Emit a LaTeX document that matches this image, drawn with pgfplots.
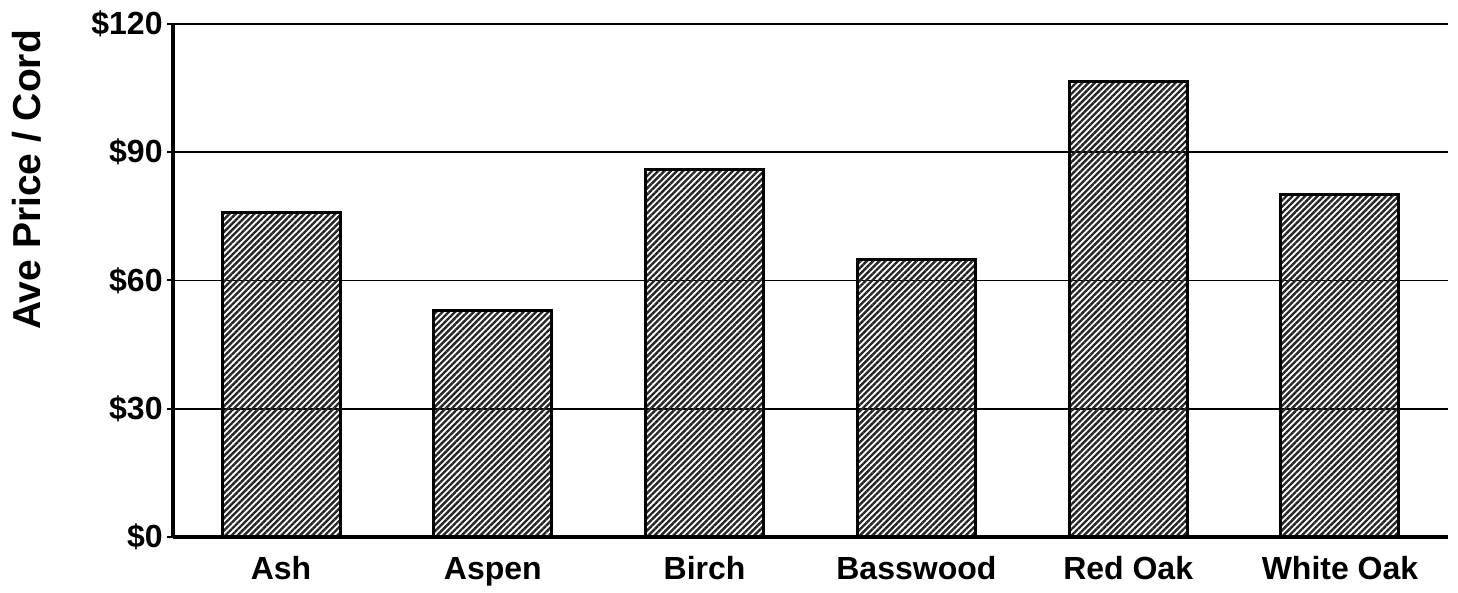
\documentclass[border=0pt]{standalone}
\usepackage{pgfplots}
\pgfplotsset{compat=1.18}
\usepackage{fontspec}
\setmainfont{Liberation Sans}
\usetikzlibrary{patterns.meta}
\begin{document}
\begin{tikzpicture}
\begin{axis}[
  scale only axis, width=637.5pt, height=256.5pt,
  xmin=-0.51, xmax=5.51, ymin=0, ymax=120,
  axis x line=bottom, axis y line=left,
  axis line style={-, line width=1.6pt, black},
  ybar, bar width=59pt,
  ytick={0,30,60,90,120},
  yticklabels={\$0,\$30,\$60,\$90,\$120},
  xtick={0,1,2,3,4,5},
  xticklabels={Ash,Aspen,Birch,Basswood,Red Oak,White Oak},
  ymajorgrids, grid style={black, line width=0.9pt},
  tick align=outside, major tick length=3pt,
  major y tick style={black, line width=1pt},
  major x tick style={draw=none},
  tick label style={font=\fontsize{16}{18}\selectfont\bfseries},
  yticklabel style={inner sep=2pt},
  xticklabel style={anchor=north, yshift=-3pt, text height=11.5pt, text depth=3.5pt},
  ylabel={Ave Price / Cord},
  ylabel style={at={(axis description cs:-0.1145,0.696)}, anchor=center, font=\fontsize{19.5}{22}\selectfont\bfseries},
]
\addplot[draw=black, line width=1.5pt, pattern={Lines[angle=45,distance=2.2pt,line width=1.2pt]}, pattern color=black!85]
  coordinates {(0,76) (1,53) (2,86) (3,65) (4,106.6) (5,80.1)};
\end{axis}
\path ([xshift=-86.5pt,yshift=-26pt]current axis.south west) rectangle ([xshift=5pt,yshift=12pt]current axis.north east);
\end{tikzpicture}
\end{document}
